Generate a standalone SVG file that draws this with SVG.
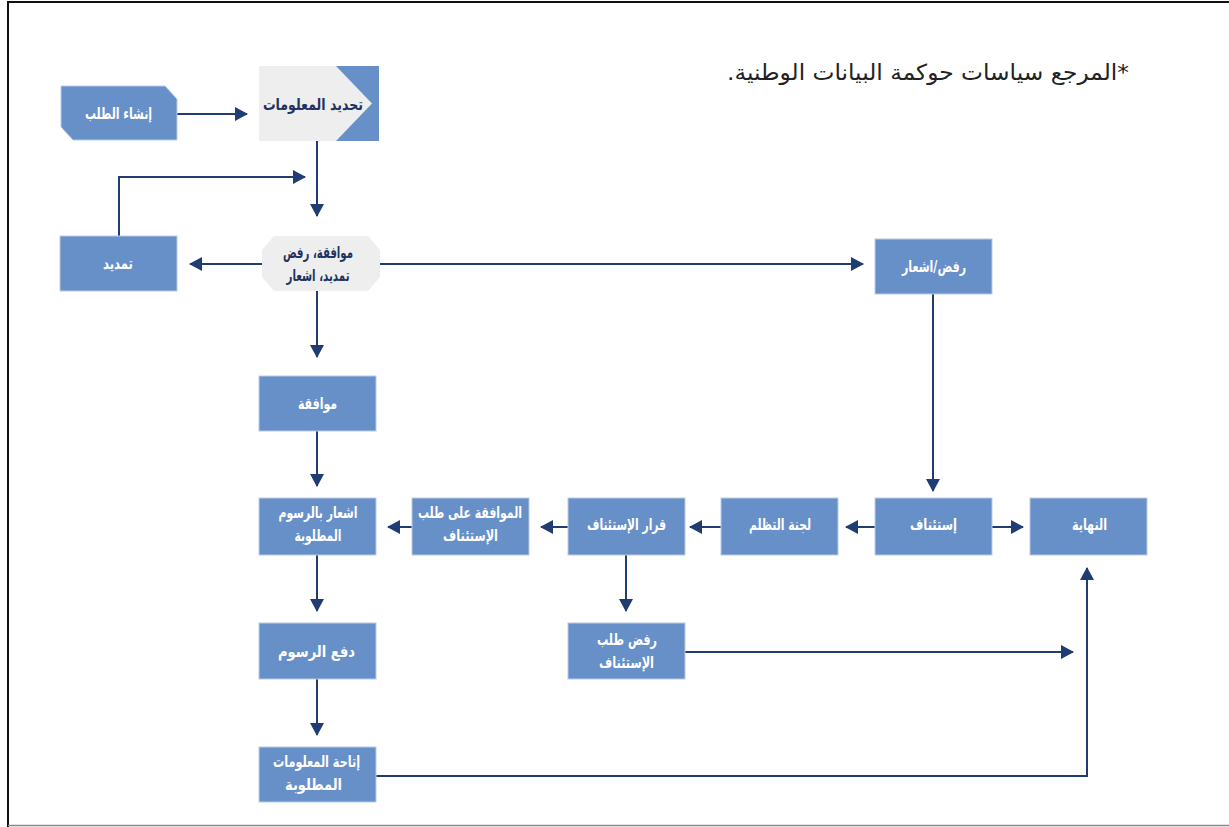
<svg xmlns="http://www.w3.org/2000/svg" width="1229" height="827" viewBox="0 0 1229 827">
<style>
.box{fill:#6790c9;stroke:#b9cbe6;stroke-width:1}
.gray{fill:#eeeeee}
.t{font-family:"DejaVu Sans Condensed","DejaVu Sans",sans-serif;font-weight:bold;font-size:16px;fill:#ffffff;text-anchor:middle}
.d{fill:#1f3360}
.ln{fill:none;stroke:#1f3d73;stroke-width:2;marker-end:url(#ah)}
</style>
<defs>
<marker id="ah" markerWidth="14" markerHeight="14" refX="12" refY="7" orient="auto" markerUnits="userSpaceOnUse">
<path d="M0,0 L13,7 L0,14 Z" fill="#1f3d73"/>
</marker>
</defs>
<rect x="0" y="0" width="1229" height="827" fill="#ffffff"/>
<path d="M8,827 L8,2 L1229,2" fill="none" stroke="#111111" stroke-width="2"/>
<line x1="8" y1="825.5" x2="1229" y2="825.5" stroke="#888888" stroke-width="1.5"/>
<text x="928" y="80" direction="rtl" font-family="DejaVu Sans,sans-serif" font-size="22" fill="#222222" text-anchor="middle" textLength="402" lengthAdjust="spacingAndGlyphs">*المرجع سياسات حوكمة البيانات الوطنية.</text>

<g id="connectors">
<line class="ln" x1="177" y1="114" x2="247" y2="114"/>
<line class="ln" x1="317" y1="141" x2="317" y2="216"/>
<polyline class="ln" points="119,236 119,177 305,177"/>
<line class="ln" x1="262" y1="264" x2="190" y2="264"/>
<line class="ln" x1="380" y1="264" x2="863" y2="264"/>
<line class="ln" x1="317" y1="291" x2="317" y2="357"/>
<line class="ln" x1="317" y1="431" x2="317" y2="486"/>
<line class="ln" x1="412" y1="527" x2="388" y2="527"/>
<line class="ln" x1="568" y1="527" x2="541" y2="527"/>
<line class="ln" x1="721" y1="527" x2="690" y2="527"/>
<line class="ln" x1="875" y1="527" x2="846" y2="527"/>
<line class="ln" x1="992" y1="527" x2="1023" y2="527"/>
<line class="ln" x1="933" y1="294" x2="933" y2="491"/>
<line class="ln" x1="626" y1="555" x2="626" y2="611"/>
<line class="ln" x1="685" y1="652" x2="1073" y2="652"/>
<line class="ln" x1="317" y1="555" x2="317" y2="611"/>
<line class="ln" x1="317" y1="679" x2="317" y2="735"/>
<polyline class="ln" points="376,776 1087,776 1087,568"/>
</g>

<g id="n-create">
<polygon class="box" points="61,86 165,86 177,99 177,140 73,140 61,127"/>
<text class="t" x="118.5" y="119" direction="rtl" textLength="67" lengthAdjust="spacingAndGlyphs">إنشاء الطلب</text>
</g>
<g id="n-define">
<rect x="259" y="66" width="120" height="75" fill="#6790c9"/>
<polygon class="gray" points="259,66 336,66 372,103.5 336,141 259,141"/>
<text class="t d" x="313" y="110" direction="rtl" font-size="17" textLength="100" lengthAdjust="spacingAndGlyphs">تحديد المعلومات</text>
</g>
<g id="n-decision">
<polygon class="gray" points="274,236 368,236 380,250 380,277 368,291 274,291 262,277 262,250"/>
<text class="t d" x="318" y="258" direction="rtl" font-size="15" textLength="70" lengthAdjust="spacingAndGlyphs">موافقة، رفض</text>
<text class="t d" x="318" y="281" direction="rtl" font-size="15" textLength="63" lengthAdjust="spacingAndGlyphs">تمديد، اشعار</text>
</g>
<g id="n-extend">
<rect class="box" x="60" y="236" width="117" height="55"/>
<text class="t" x="118" y="269" direction="rtl" textLength="30" lengthAdjust="spacingAndGlyphs">تمديد</text>
</g>
<g id="n-reject">
<rect class="box" x="875" y="239" width="117" height="55"/>
<text class="t" x="934" y="272" direction="rtl" textLength="64" lengthAdjust="spacingAndGlyphs">رفض/اشعار</text>
</g>
<g id="n-approve">
<rect class="box" x="259" y="376" width="117" height="55"/>
<text class="t" x="317.5" y="409" direction="rtl" textLength="39" lengthAdjust="spacingAndGlyphs">موافقة</text>
</g>
<g id="n-fees-notice">
<rect class="box" x="259" y="498" width="117" height="57"/>
<text class="t" x="318" y="518" direction="rtl" textLength="79" lengthAdjust="spacingAndGlyphs">اشعار بالرسوم</text>
<text class="t" x="318" y="541" direction="rtl" textLength="47" lengthAdjust="spacingAndGlyphs">المطلوبة</text>
</g>
<g id="n-appeal-approve">
<rect class="box" x="412" y="498" width="117" height="57"/>
<text class="t" x="470" y="518" direction="rtl" textLength="104" lengthAdjust="spacingAndGlyphs">الموافقة على طلب</text>
<text class="t" x="470.5" y="541" direction="rtl" textLength="55" lengthAdjust="spacingAndGlyphs">الإستئناف</text>
</g>
<g id="n-appeal-decision">
<rect class="box" x="568" y="498" width="117" height="57"/>
<text class="t" x="626.5" y="530" direction="rtl" textLength="79" lengthAdjust="spacingAndGlyphs">قرار الإستئناف</text>
</g>
<g id="n-committee">
<rect class="box" x="721" y="498" width="117" height="57"/>
<text class="t" x="780" y="530" direction="rtl" textLength="62" lengthAdjust="spacingAndGlyphs">لجنة التظلم</text>
</g>
<g id="n-appeal">
<rect class="box" x="875" y="498" width="117" height="57"/>
<text class="t" x="933.5" y="530" direction="rtl" textLength="47" lengthAdjust="spacingAndGlyphs">إستئناف</text>
</g>
<g id="n-end">
<rect class="box" x="1030" y="498" width="117" height="57"/>
<text class="t" x="1089.5" y="530" direction="rtl" textLength="35" lengthAdjust="spacingAndGlyphs">النهاية</text>
</g>
<g id="n-appeal-reject">
<rect class="box" x="568" y="623" width="117" height="56"/>
<text class="t" x="627" y="645" direction="rtl" textLength="60" lengthAdjust="spacingAndGlyphs">رفض طلب</text>
<text class="t" x="626.5" y="668" direction="rtl" textLength="55" lengthAdjust="spacingAndGlyphs">الإستئناف</text>
</g>
<g id="n-pay">
<rect class="box" x="259" y="623" width="117" height="56"/>
<text class="t" x="316.5" y="657" direction="rtl" font-size="19" textLength="77" lengthAdjust="spacingAndGlyphs">دفع الرسوم</text>
</g>
<g id="n-provide">
<rect class="box" x="259" y="747" width="117" height="55"/>
<text class="t" x="316.5" y="767" direction="rtl" textLength="87" lengthAdjust="spacingAndGlyphs">إتاحة المعلومات</text>
<text class="t" x="313.5" y="790" direction="rtl" textLength="57" lengthAdjust="spacingAndGlyphs">المطلوبة</text>
</g>
</svg>
